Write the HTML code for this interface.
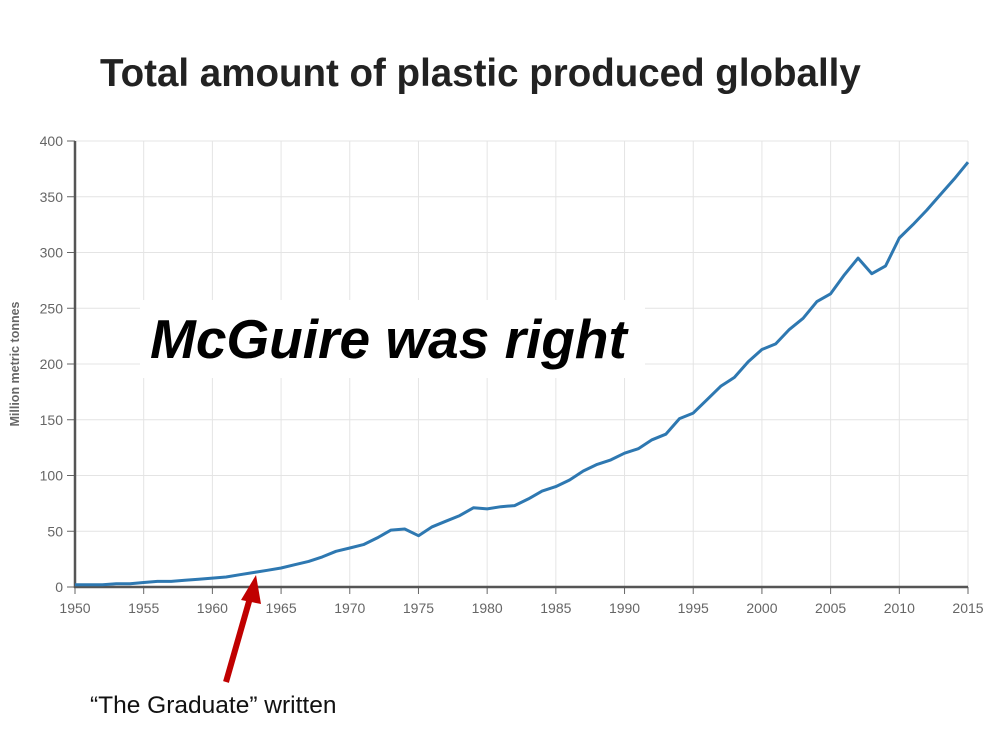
<!DOCTYPE html>
<html><head><meta charset="utf-8"><style>
body{margin:0;background:#fff;width:998px;height:734px;overflow:hidden;font-family:"Liberation Sans",sans-serif}
</style></head><body>
<svg id="c" width="998" height="734" style="position:absolute;left:0;top:0">
<text x="100" y="86" font-size="38.5" font-weight="bold" fill="#222">Total amount of plastic produced globally</text>
<g id="grid"></g><g id="axes"></g>
<text transform="translate(19,364) rotate(-90)" text-anchor="middle" font-size="12.5" font-weight="bold" fill="#666">Million metric tonnes</text>
<path id="line" fill="none" stroke="#2e78b1" stroke-width="3" stroke-linejoin="round"/>
<rect x="140" y="300" width="505" height="78" fill="#fff"/>
<text x="150" y="358" font-size="55" font-weight="bold" font-style="italic" fill="#000">McGuire was right</text>
<g>
<line x1="226" y1="682" x2="250" y2="598" stroke="#c00000" stroke-width="6"/>
<polygon points="256,575 241,600 261,604" fill="#c00000"/>
</g>
<text x="90" y="713" font-size="24.5" fill="#111">“The Graduate” written</text>
</svg>
<script>
const years=[];for(let y=1950;y<=2015;y++)years.push(y);
const values=[2,2,2,3,3,4,5,5,6,7,8,9,11,13,15,17,20,23,27,32,35,38,44,51,52,46,54,59,64,71,70,72,73,79,86,90,96,104,110,114,120,124,132,137,151,156,168,180,188,202,213,218,231,241,256,263,280,295,281,288,313,325,338,352,366,381];
const yTicks=[0,50,100,150,200,250,300,350,400];
const xTicks=[1950,1955,1960,1965,1970,1975,1980,1985,1990,1995,2000,2005,2010,2015];
const X=v=>75+(v-1950)*(893/65), Y=v=>587-v*(446/400);
const ns="http://www.w3.org/2000/svg";
const g=document.getElementById('grid'),a=document.getElementById('axes');
function mk(p,t,at){const e=document.createElementNS(ns,t);for(const k in at)e.setAttribute(k,at[k]);p.appendChild(e);return e;}
yTicks.forEach(v=>{
 const l=mk(g,'line',{x1:75,x2:968,y1:Y(v),y2:Y(v),stroke:'#e4e4e4'});
 
 
 mk(a,'line',{x1:67,x2:75,y1:Y(v),y2:Y(v),stroke:'#666'});
 const t=mk(a,'text',{x:63,y:Y(v)+5,'text-anchor':'end','font-size':14,fill:'#666'});t.textContent=v;
 
 
});
xTicks.forEach(v=>{
 const l=mk(g,'line',{x1:X(v),x2:X(v),y1:141,y2:587,stroke:'#e4e4e4'});
 
 
 mk(a,'line',{x1:X(v),x2:X(v),y1:587,y2:594,stroke:'#666'});
 const t=mk(a,'text',{x:X(v),y:613,'text-anchor':'middle','font-size':14,fill:'#666'});t.textContent=v;
 
 
});
mk(a,'line',{x1:75,x2:75,y1:141,y2:588,stroke:'#555','stroke-width':2.5});
mk(a,'line',{x1:74,x2:968,y1:587,y2:587,stroke:'#555','stroke-width':2.5});
document.getElementById('line').setAttribute('d',years.map((y,i)=>(i?'L':'M')+X(y).toFixed(1)+','+Y(values[i]).toFixed(1)).join(''));
</script>
</body></html>
